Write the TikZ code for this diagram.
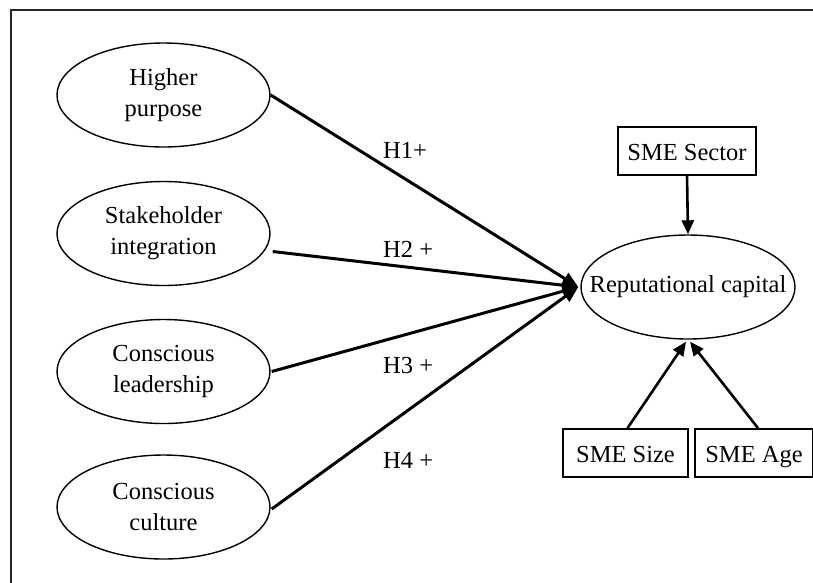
\documentclass[tikz,border=0pt]{standalone}
\usepackage{fontspec}
\setmainfont{Liberation Serif}
\usetikzlibrary{arrows.meta,calc,shapes.geometric}
\begin{document}
\begin{tikzpicture}[x=1pt,y=-1pt,
  lat/.style={draw,ellipse,line width=1.4pt,minimum width=213pt,minimum height=104pt,
    inner sep=0pt,align=center,font=\fontsize{24.5}{31}\selectfont},
  ctl/.style={draw,rectangle,line width=1.8pt,minimum height=48pt,inner sep=0pt,
    text height=19pt,text depth=0pt,font=\fontsize{24.5}{28}\selectfont},
  hyparrow/.style={line width=3pt,-{Triangle[length=16pt,width=13pt]}},
  ctlarrow/.style={line width=2.6pt,-{Triangle[length=14pt,width=12pt]}},
  hlab/.style={anchor=base west,inner sep=0pt,font=\fontsize{24.5}{28}\selectfont}
]
\useasboundingbox (0,0) rectangle (813,582);
\clip (0,0) rectangle (813,582);
\draw[line width=2pt,black!85] (11,10) rectangle (840,610);

\node[lat] (hp) at (163.5,95) {Higher\\purpose};
\node[lat] (si) at (163.5,233.5) {Stakeholder\\integration};
\node[lat] (cl) at (163.5,371.5) {Conscious\\leadership};
\node[lat] (cc) at (163.5,507) {Conscious\\culture};

\node[lat,minimum width=214pt,minimum height=104pt] (rc) at (688,287) {\makebox[0pt]{Reputational capital}};

\node[ctl,minimum width=138pt] (sec) at (687,151) {SME Sector};
\node[ctl,minimum width=125pt] (size) at (625.5,453) {SME Size};
\node[ctl,minimum width=118pt] (age) at (754,453) {SME Age};

\draw[hyparrow] (hp.east) -- ($(rc.west)+(-2,0)$);
\draw[hyparrow] ($(si.east)+(2,18)$) -- ($(rc.west)+(-2,0)$);
\draw[hyparrow] ($(cl.east)+(1,0)$) -- ($(rc.west)+(-2,0)$);
\draw[hyparrow] ($(cc.east)+(1,2)$) -- ($(rc.west)+(-2,0)$);

\coordinate (rcb1) at ($(rc.south)+(-2,2)$);
\coordinate (rcb2) at ($(rc.south)+(2,2)$);
\draw[ctlarrow] (sec.south) -- (rc.north);
\draw[ctlarrow] ($(size.north)+(2,0)$) -- (rcb1);
\draw[ctlarrow] ($(age.north)+(4,0)$) -- (rcb2);

\node[hlab] (h1) at (383,158) {H1+};
\node[hlab] (h2) at (383,257) {H2 +};
\node[hlab] (h3) at (383,373) {H3 +};
\node[hlab] (h4) at (383,468) {H4 +};
\end{tikzpicture}
\end{document}
